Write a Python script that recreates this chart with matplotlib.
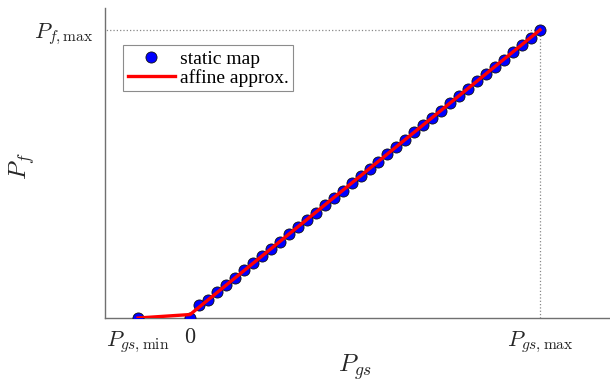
import matplotlib
matplotlib.use("Agg")
import matplotlib.pyplot as plt
import numpy as np

plt.rcParams['mathtext.fontset'] = 'cm'
plt.rcParams['font.family'] = ['Liberation Serif', 'DejaVu Serif']

# normalized data (Pgs,max = 1, Pf,max = 1)
pgs_min = -0.1486
pgs_static = list(np.linspace(0.0, 1.0, 40))
pf_static = [0.0, 0.045, 0.063, 0.090, 0.116, 0.140, 0.165, 0.190, 0.215, 0.240,
             0.265, 0.290, 0.316, 0.341, 0.366, 0.391, 0.417, 0.442, 0.467, 0.493,
             0.518, 0.543, 0.569, 0.594, 0.619, 0.644, 0.670, 0.695, 0.720, 0.746,
             0.771, 0.796, 0.821, 0.846, 0.871, 0.897, 0.922, 0.948, 0.973, 1.0]
pgs_all = [pgs_min] + pgs_static
pf_all = [0.0] + pf_static

affine_x = [pgs_min, 0.0, 1.0]
affine_y = [0.0, 0.012, 1.0]

xtick_pos = [pgs_min, 0.0, 1.0]
xtick_labels = [r'$P_{gs,\mathrm{min}}$', r'$0$', r'$P_{gs,\mathrm{max}}$']
ytick_pos = [1.0]
ytick_labels = [r'$P_{f,\mathrm{max}}$']

fig = plt.figure(figsize=(6.1, 3.83), dpi=100)
ax = fig.add_axes([105/610, 65/383, 505/610, 310/383])

ax.plot([-0.25, 1.0], [1.0, 1.0], linestyle=':', color='#888888', linewidth=0.9)
ax.plot([1.0, 1.0], [0.0, 1.0], linestyle=':', color='#888888', linewidth=0.9)

ax.plot(pgs_all, pf_all, linestyle='none', marker='o', markersize=8,
        markerfacecolor='#0000ff', markeredgecolor='#101010', markeredgewidth=0.6,
        label='static map', zorder=3)
ax.plot(affine_x, affine_y, color='#ff0000', linewidth=2.4, label='affine approx.', zorder=4)

ax.set_xlim(-0.243, 1.2)
ax.set_ylim(0.0, 1.076)

ax.set_xticks(xtick_pos)
ax.set_xticklabels(xtick_labels, fontsize=16)
ax.set_yticks(ytick_pos)
ax.set_yticklabels(ytick_labels, fontsize=16)
ax.tick_params(length=0, pad=8, colors='#262626')

for s in ['top', 'right']:
    ax.spines[s].set_visible(False)
for s in ['left', 'bottom']:
    ax.spines[s].set_color('#707070')
    ax.spines[s].set_linewidth(1.0)

ax.set_xlabel(r'$P_{gs}$', fontsize=18, color='#262626')
ax.set_ylabel(r'$P_f$', fontsize=18, color='#262626')
ax.xaxis.set_label_coords(0.495, -0.112)
ax.yaxis.set_label_coords(-0.135, 0.49)

leg = ax.legend(loc='upper left', bbox_to_anchor=(0.036, 0.88), borderaxespad=0,
                fontsize=14, frameon=True, fancybox=False, edgecolor='#707070',
                handlelength=2.4, handletextpad=0.25, borderpad=0.25, labelspacing=0.05)
leg.get_frame().set_linewidth(0.8)

fig.savefig('out.png', dpi=100)
